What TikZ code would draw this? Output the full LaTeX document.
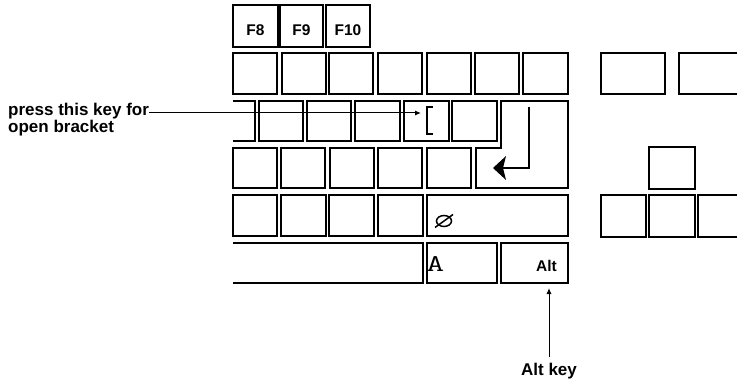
\documentclass[tikz,border=0pt]{standalone}
\usepackage{fontspec}
\setmainfont{Liberation Sans}
\usetikzlibrary{arrows.meta}
\tikzset{
  keybox/.style={draw, line width=1.7pt, inner sep=0pt, outer sep=0pt},
  keyline/.style={line width=1.7pt, line join=miter},
  keylbl/.style={font=\fontsize{15.5}{15.5}\selectfont\bfseries, inner sep=0pt},
  calllbl/.style={font=\fontsize{17}{17}\selectfont\bfseries, inner sep=0pt},
  arr/.style={line width=1pt, -{Latex[length=6pt,width=5pt]}},
}
\newcommand\kb[5]{\node[keybox, minimum width={(#3)-(#1)}, minimum height={(#4)-(#2)}] (#5) at ({((#1)+(#3))/2},{-((#2)+(#4))/2}) {};}
\begin{document}
\begin{tikzpicture}[x=1pt,y=1pt]
\useasboundingbox (0,0) rectangle (737,-385);
\clip (0,0) rectangle (737,-385);
% F row
\kb{233}{5}{278}{47}{kF8}
\kb{280}{5}{323}{47}{kF9}
\kb{326}{5}{370}{47}{kF10}
\node[keylbl, anchor=base] (tF8) at ([yshift=11pt]kF8.south) {F8};
\node[keylbl, anchor=base] (tF9) at ([yshift=11pt]kF9.south) {F9};
\node[keylbl, anchor=base] (tF10) at ([yshift=11pt]kF10.south) {F10};
% row 1
\kb{233}{53}{277}{94}{kA1}
\kb{282}{53}{326}{94}{kA2}
\kb{329}{53}{373}{94}{kA3}
\kb{378}{53}{422}{94}{kA4}
\kb{427}{53}{471}{94}{kA5}
\kb{475}{53}{519}{94}{kA6}
\kb{523}{53}{568}{94}{kA7}
\kb{601}{53}{665}{94}{kA8}
\kb{679}{53}{745}{94}{kA9}
% row 2
\draw[keyline] (233,-101) -- (255,-101) -- (255,-141) -- (233,-141);
\kb{259}{101}{303}{141}{kB2}
\kb{307}{101}{351}{141}{kB3}
\kb{355}{101}{400}{141}{kB4}
\kb{404}{101}{449}{141}{kLB}
\kb{452}{101}{497}{141}{kB6}
% enter key
\draw[keyline] (501,-101) -- (568,-101) -- (568,-188) -- (476,-188) -- (476,-148) -- (501,-148) -- cycle;
\draw[line width=2.8pt] (529,-107) -- (529,-168) -- (503,-168);
\fill (493,-168) -- (506,-156) -- (503,-168) -- (506,-180) -- cycle;
% row 3
\kb{233}{148}{277}{188}{kC1}
\kb{281}{148}{325}{188}{kC2}
\kb{330}{148}{374}{188}{kC3}
\kb{378}{148}{422}{188}{kC4}
\kb{427}{148}{471}{188}{kC5}
\kb{649}{147}{695}{189}{kC6}
% row 4
\kb{233}{195}{277}{236}{kD1}
\kb{281}{195}{326}{236}{kD2}
\kb{329}{195}{374}{236}{kD3}
\kb{378}{195}{423}{236}{kD4}
\kb{427}{195}{568}{236}{kWide}
\kb{601}{195}{646}{237}{kD6}
\kb{649}{195}{695}{237}{kD7}
\kb{698}{195}{745}{237}{kD8}
\draw[line width=1.5pt] (444,-221) ellipse (7.5 and 5.5);
\draw[line width=1.5pt] (435,-227.5) -- (453,-214.5);
% row 5
\draw[keyline] (233,-243) -- (423,-243) -- (423,-283) -- (233,-283);
\kb{427}{243}{497}{283}{kA}
\kb{501}{243}{568}{283}{kAlt}
\node[font=\fontsize{24}{24}\selectfont\ttfamily, inner sep=0pt, anchor=base west, xscale=1.45, transform shape] (tA) at ([xshift=-1pt,yshift=12pt]kA.south west) {A};
\node[keylbl, anchor=base east] (tAlt) at ([xshift=-11pt,yshift=12pt]kAlt.south east) {Alt};
% bracket glyph
\draw[line width=1.2pt] (433,-107) -- (427,-107) -- (427,-134) -- (433,-134);
% callouts
\node[calllbl, anchor=base west] (lbl1) at (8,-116) {press this key for};
\node[calllbl, anchor=base west] (lbl2) at (8,-133) {open bracket};
\coordinate (brk) at (421,-113);
\draw[arr] (lbl1.east |- brk) -- (brk);
\node[calllbl, anchor=base] (altlbl) at (549,-375) {Alt key};
\draw[arr, shorten >=5pt] ([yshift=5pt]altlbl.north) -- (altlbl.north |- kAlt.south);
\end{tikzpicture}
\end{document}
